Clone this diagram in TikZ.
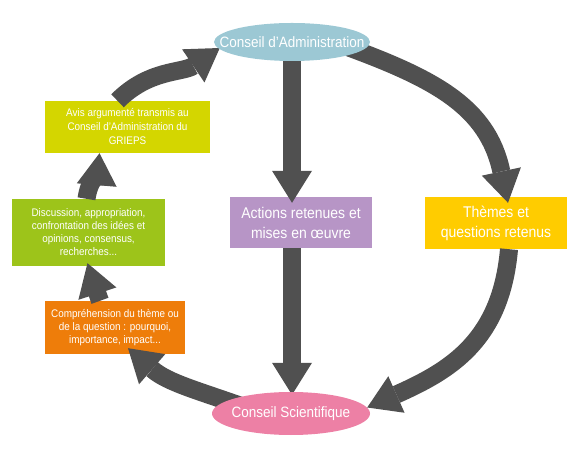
\documentclass[tikz,border=0pt]{standalone}
\usepackage{fontspec}
\setmainfont[FakeStretch=0.9]{Liberation Sans}
\usetikzlibrary{arrows.meta,shapes.geometric,calc}
\definecolor{caBlue}{RGB}{156,200,212}
\definecolor{csPink}{RGB}{237,128,165}
\definecolor{avisYel}{RGB}{212,214,0}
\definecolor{discGreen}{RGB}{157,196,26}
\definecolor{compOrange}{RGB}{238,125,10}
\definecolor{actLilac}{RGB}{183,149,198}
\definecolor{themYel}{RGB}{255,204,0}
\definecolor{arrowGray}{RGB}{80,80,80}
\pgfdeclarelayer{bg}
\pgfdeclarelayer{mid}
\pgfsetlayers{bg,mid,main}
\tikzset{
  box/.style={rectangle, inner sep=0pt, text=white, align=center},
  smalltxt/.style={font=\fontsize{11}{13}\selectfont},
  bigtxt/.style={font=\fontsize{15.5}{20}\selectfont},
  oval/.style={ellipse, inner sep=0pt},
  ovaltxt/.style={text=white, font=\fontsize{15}{18}\selectfont, inner sep=0pt},
  bigarrow/.style={line width=18pt, draw=arrowGray,
    -{Triangle[length=32pt,width=40pt,line width=0pt]}},
}
\begin{document}
\begin{tikzpicture}[x=1pt,y=1pt]
\useasboundingbox (0,0) rectangle (577,457);
% ellipses (top layer)
\node[oval, fill=caBlue, minimum width=156pt, minimum height=38pt,
  label={[ovaltxt]center:Conseil d'Administration}] (ca) at (292,415) {};
\node[oval, fill=csPink, minimum width=158pt, minimum height=43pt,
  label={[ovaltxt]center:Conseil Scientifique}] (cs) at (291,43.5) {};
% boxes (bottom layer)
\begin{pgfonlayer}{bg}
\node[box, font=\fontsize{11}{14}\selectfont, fill=avisYel, minimum width=165pt, minimum height=52pt] (avis) at (127.5,330)
  {Avis argumenté transmis au\\Conseil d'Administration du\\GRIEPS};
\node[box, smalltxt, fill=discGreen, minimum width=153pt, minimum height=67pt] (disc) at (88.5,224.5)
  {Discussion, appropriation,\\confrontation des idées et\\opinions, consensus,\\recherches...};
\node[box, smalltxt, fill=compOrange, minimum width=140pt, minimum height=53pt] (comp) at (115,129.5)
  {Compréhension du thème ou\\de la question : pourquoi,\\importance, impact...};
\node[box, bigtxt, fill=actLilac, minimum width=142pt, minimum height=51pt] (act) at (301,234.5)
  {Actions retenues et\\mises en œuvre};
\node[box, bigtxt, fill=themYel, minimum width=142pt, minimum height=52pt] (th) at (496,234)
  {Thèmes et\\questions retenus};
\end{pgfonlayer}
% arrows (middle layer)
\begin{pgfonlayer}{mid}
\draw[bigarrow] (ca.south) -- ($(ca.south |- act.north)+(0,-6)$);
\draw[bigarrow] (ca.south |- act.south) -- ($(ca.south |- cs.north)+(0,-3)$);
\draw[bigarrow] ($(ca.center)+(50,-3)$) to[out=-20,in=102,looseness=1.1] ($(th.north)+(12,-6)$);
\draw[bigarrow] ($(th.south)+(13,0)$) to[out=-95,in=24,looseness=1.1] ($(cs.east)+(-3,6)$);
\draw[bigarrow] ($(cs.center)+(-40,4)$) to[out=160,in=-41] ($(comp.south)+(13,6)$);
\draw[bigarrow] ($(comp.north)+(-15,0)$) to[out=110,in=-72] ($(disc.south)+(-1,3)$);
\draw[bigarrow] ($(disc.north)+(-2,0)$) to[out=82,in=-95] ($(avis.south)+(-28,0)$);
\draw[bigarrow] ($(avis.north)+(-10,0)$) to[out=45,in=-146] ($(ca.west)+(6,-6)$);
\end{pgfonlayer}
\end{tikzpicture}
\end{document}
